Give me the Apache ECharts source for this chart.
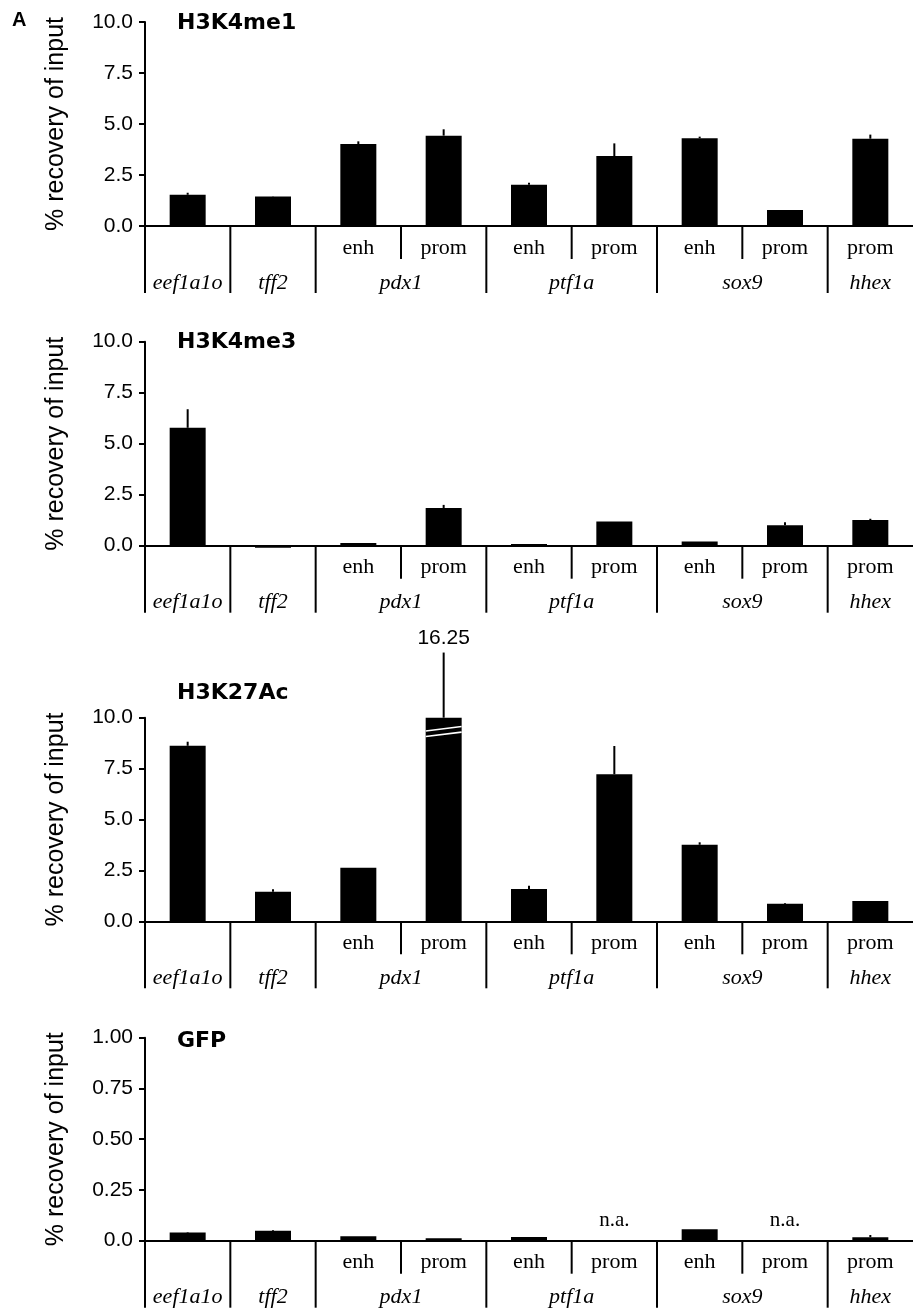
<!DOCTYPE html>
<html>
<head>
<meta charset="utf-8">
<script src="https://cdn.jsdelivr.net/npm/echarts@6/dist/echarts.min.js"></script>
<style>
  html, body { margin: 0; padding: 0; background: #fff; }
  #chart { width: 913px; height: 1313px; }
</style>
</head>
<body>
<div id="chart"></div>
<script>
// categories along the x axis
const categories = ['eef1a1o', 'tff2', 'pdx1 enh', 'pdx1 prom', 'ptf1a enh', 'ptf1a prom', 'sox9 enh', 'sox9 prom', 'hhex prom'];
const regionLabels = ['', '', 'enh', 'prom', 'enh', 'prom', 'enh', 'prom', 'prom'];
const genes = ['eef1a1o', 'tff2', 'pdx1', 'ptf1a', 'sox9', 'hhex'];
const geneSpan = [1, 1, 2, 2, 2, 1];

// % recovery of input (mean) and upper error
const h3k4me1 = [1.53, 1.44, 4.02, 4.43, 2.02, 3.43, 4.30, 0.78, 4.28];
const h3k4me1Err = [0.10, 0.02, 0.13, 0.31, 0.10, 0.62, 0.08, 0, 0.20];
const h3k4me3 = [5.78, -0.10, 0.13, 1.85, 0.08, 1.19, 0.20, 1.00, 1.26];
const h3k4me3Err = [0.91, 0, 0, 0.15, 0, 0, 0, 0.15, 0.06];
const h3k27ac = [8.62, 1.45, 2.63, 16.25, 1.59, 7.22, 3.76, 0.86, 1.00];
const h3k27acErr = [0.20, 0.12, 0, 3.2, 0.16, 1.39, 0.12, 0.04, 0];
const gfp = [0.040, 0.049, 0.022, 0.012, 0.018, null, 0.056, null, 0.017];
const gfpErr = [0.003, 0.004, 0, 0, 0, 0, 0, 0, 0.011];

const yMax = [10, 10, 10, 1];
const yInterval = [2.5, 2.5, 2.5, 0.25];
const titles = ['H3K4me1', 'H3K4me3', 'H3K27Ac', 'GFP'];

const panels = [
  { values: h3k4me1, errors: h3k4me1Err },
  { values: h3k4me3, errors: h3k4me3Err },
  { values: h3k27ac, errors: h3k27acErr },
  { values: gfp, errors: gfpErr },
];

// layout
const gridTop = [22, 341.7, 717.7, 1037.7];
const gridHeight = [204, 204, 203.6, 203];
const titleTop = [12, 331.5, 682, 1030];

const chart = echarts.init(document.getElementById('chart'), null, { renderer: 'canvas' });

const sans = 'Liberation Sans, Arial, Helvetica, sans-serif';
const serif = 'Liberation Serif, Times New Roman, serif';

let geneStart = [];
geneSpan.reduce((acc, s) => { geneStart.push(acc); return acc + s; }, 0);

function renderGroup(params, api) {
  const start = api.value(0);
  const span = api.value(1);
  const gi = api.value(2);
  const c = api.coord([start, 0]);
  const w = api.size([1, 0])[0];
  const left = c[0] - w / 2;
  const y0 = c[1];
  const st = { stroke: '#000', lineWidth: 2 };
  const children = [
    { type: 'line', shape: { x1: left, y1: y0, x2: left, y2: y0 + 67 }, style: st },
  ];
  if (span === 2) {
    children.push({ type: 'line', shape: { x1: left + w, y1: y0, x2: left + w, y2: y0 + 33 }, style: st });
  }
  children.push({
    type: 'text',
    style: {
      x: left + (span * w) / 2, y: y0 + 57, text: genes[gi],
      font: 'italic 22px ' + serif, fill: '#000', align: 'center', verticalAlign: 'middle',
    },
  });
  return { type: 'group', children };
}

function makeErrorRender(max) {
  return function (params, api) {
    const i = api.value(0);
    const v = api.value(1);
    const err = api.value(2);
    const na = api.value(3);
    const children = [];
    if (na) {
      const p = api.coord([i, 0]);
      children.push({
        type: 'text',
        style: { x: p[0], y: p[1] - 20, text: 'n.a.', font: '21px ' + serif, fill: '#000', align: 'center', verticalAlign: 'middle' },
      });
      return { type: 'group', children };
    }
    const top = Math.min(v, max);
    const a = api.coord([i, top]);
    if (err > 0) {
      const b = api.coord([i, top + err]);
      children.push({ type: 'line', shape: { x1: a[0], y1: a[1], x2: b[0], y2: b[1] }, style: { stroke: '#000', lineWidth: 2 } });
      if (v > max) {
        children.push({
          type: 'text',
          style: { x: b[0], y: b[1] - 4, text: String(v), font: '21px ' + sans, fill: '#000', align: 'center', verticalAlign: 'bottom' },
        });
      }
    }
    if (v > max) {
      const bw = api.size([1, 0])[0] * 0.42;
      const m = api.coord([i, max * 0.932]);
      [-2.8, 2.8].forEach((d) => {
        children.push({
          type: 'line',
          shape: { x1: m[0] - bw / 2, y1: m[1] + d + 2.2, x2: m[0] + bw / 2, y2: m[1] + d - 2.2 },
          style: { stroke: '#fff', lineWidth: 1.6 },
        });
      });
    }
    return { type: 'group', children };
  };
}

const grid = [], xAxis = [], yAxis = [], series = [], title = [];

title.push({ text: 'A', left: 12, top: 10, padding: 0, textStyle: { fontFamily: sans, fontWeight: 'bold', fontSize: 20, color: '#000' } });

panels.forEach((p, k) => {
  grid.push({ left: 145, top: gridTop[k], width: 774, height: gridHeight[k] });
  title.push({
    text: titles[k], left: 177, top: titleTop[k], padding: 0,
    textStyle: { fontFamily: 'DejaVu Sans', fontWeight: 'bold', fontSize: 22, color: '#000' },
  });
  xAxis.push({
    type: 'category', gridIndex: k, data: categories,
    axisLine: { onZero: true, lineStyle: { color: '#000', width: 2 } },
    axisTick: { show: false },
    axisLabel: {
      interval: 0, margin: 11, color: '#000', fontFamily: serif, fontSize: 22,
      formatter: (val, idx) => regionLabels[idx],
    },
    splitLine: { show: false },
  });
  const digits = k === 3 ? 2 : 1;
  yAxis.push({
    type: 'value', gridIndex: k, min: 0, max: yMax[k], interval: yInterval[k],
    name: '% recovery of input', nameLocation: 'middle', nameGap: 76,
    nameTextStyle: { fontFamily: sans, fontSize: 25, color: '#000' },
    axisLine: { show: true, lineStyle: { color: '#000', width: 2 } },
    axisTick: { show: true, inside: false, length: 6, lineStyle: { color: '#000', width: 2 } },
    axisLabel: {
      margin: 12, color: '#000', fontFamily: sans, fontSize: 21,
      formatter: (v) => (v === 0 ? '0.0' : v.toFixed(digits)),
    },
    splitLine: { show: false },
  });
  series.push({
    type: 'bar', xAxisIndex: k, yAxisIndex: k, barWidth: 36, clip: false,
    itemStyle: { color: '#000' },
    data: p.values.map((v) => (v == null ? null : Math.min(v, yMax[k]))),
    z: 2,
  });
  series.push({
    type: 'custom', xAxisIndex: k, yAxisIndex: k, clip: false, z: 3,
    renderItem: makeErrorRender(yMax[k]),
    encode: { x: 0, y: 1 },
    data: p.values.map((v, i) => [i, v == null ? 0 : v, p.errors[i], v == null ? 1 : 0]),
  });
  series.push({
    type: 'custom', xAxisIndex: k, yAxisIndex: k, clip: false, z: 3,
    renderItem: renderGroup,
    encode: { x: 0, y: 3 },
    data: genes.map((g, gi) => [geneStart[gi], geneSpan[gi], gi, 0]),
  });
});

chart.setOption({
  animation: false,
  backgroundColor: '#fff',
  title,
  grid,
  xAxis,
  yAxis,
  series,
});
</script>
</body>
</html>
